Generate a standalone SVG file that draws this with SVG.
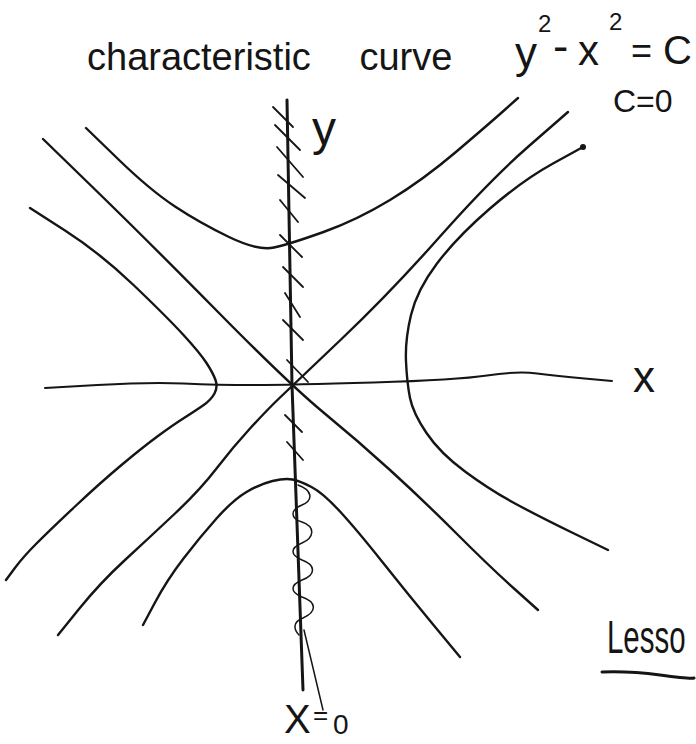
<svg xmlns="http://www.w3.org/2000/svg" width="696" height="744" viewBox="0 0 696 744">
<style>
.c{fill:none;stroke:#151515;stroke-width:2.4;stroke-linecap:round;stroke-linejoin:round}
.ax{stroke-width:3}
.thin{stroke-width:1.5}
.h{stroke-width:1.8}
.t{font-family:"Liberation Sans",Arial,sans-serif;fill:#151515}
</style>
<rect width="696" height="744" fill="#ffffff"/>
<g id="axes">
  <path id="x-axis" class="c" style="stroke-width:2" d="M45,388 L97.5,385 Q150,382 183.5,383.5 Q217,385 253.5,385 Q290,385 373.5,382.5 Q457,380 487,375.5 Q517,371 537,373.5 Q557,376 584.5,378.5 L612,381"/>
  <path id="y-axis" class="c ax" d="M287,100 L292,385 L303,690"/>
  <path id="x0-pointer" class="c thin" d="M304,630 L323,710"/>
</g>
<g id="hatches" class="c h">
  <path d="M273,107 L293,127"/>
  <path d="M275,125 L300,150"/>
  <path d="M277,147 L303,177"/>
  <path d="M278,175 L305,198"/>
  <path d="M280,200 L298,222"/>
  <path d="M280,235 L302,257"/>
  <path d="M283,267 L303,287"/>
  <path d="M285,293 L300,317"/>
  <path d="M283,320 L303,340"/>
  <path d="M287,360 L308,382"/>
  <path d="M285,415 L302,432"/>
  <path d="M287,442 L303,460"/>
  <path class="thin" d="M298,485 C312,490 314,500 302,505 C290,510 290,518 302,522 C316,527 314,538 302,543 C290,548 290,555 302,560 C316,565 316,575 302,580 C290,585 290,592 302,597 C317,602 317,612 303,618 C292,622 294,630 299,635"/>
</g>
<g id="curves">
  <path id="upper-branch" class="c" d="M86,128 L118,159 Q150,190 175,206.5 Q200,223 229,237 Q258,251 274,247.5 Q290,244 323.5,232 Q357,220 390,200 Q423,180 456.5,151.5 Q490,123 504,110.5 L518,98"/>
  <path id="asymptote-a" class="c" d="M43,139 L95,189.5 Q147,240 218.5,312.5 Q290,385 323.5,412.5 Q357,440 390,470 Q423,500 456.5,533.5 Q490,567 514,588.5 L538,610"/>
  <path id="asymptote-b" class="c" d="M58,635 L79,609 Q100,583 125,560 Q150,537 175,513.5 Q200,490 216.5,468.5 Q233,447 250,428.5 Q267,410 279.5,398 Q292,386 341,339.5 Q390,293 440,236.5 Q490,180 529,146 L568,112"/>
  <path id="left-branch" class="c" d="M30,208 L65,230.5 Q100,253 133.5,285 Q167,317 183.5,335 Q200,353 206.5,363 Q213,373 215.5,380 Q218,387 214.5,393.5 Q211,400 203,405.5 Q195,411 184,418 Q173,425 158,436 Q143,447 121.5,465 Q100,483 75,506.5 Q50,530 36.5,543.5 Q23,557 14.5,568.5 L6,580"/>
  <path id="right-branch" class="c" d="M583,147 L553,163.5 Q523,180 490,208.5 Q457,237 437,263.5 Q417,290 411,315 Q405,340 406,361.5 Q407,383 410,398 Q413,413 426.5,433 Q440,453 465,471.5 Q490,490 515,503.5 Q540,517 574,533.5 L608,550"/>
  <circle cx="583" cy="147" r="3" fill="#151515"/>
  <path id="lower-branch" class="c" d="M143,625 L155,602.5 Q167,580 183.5,558.5 Q200,537 216.5,518.5 Q233,500 246.5,492 Q260,484 272.5,481 Q285,478 292.5,479.5 Q300,481 311.5,487 Q323,493 340,511.5 Q357,530 382,561.5 Q407,593 433.5,625 L460,657"/>
</g>
<g id="labels">
  <text id="title" class="t" x="87" y="70" font-size="38" word-spacing="38">characteristic curve</text>
  <text id="equation" class="t"><tspan x="515" y="68" font-size="44">y</tspan><tspan x="538" y="32" font-size="24">2</tspan><tspan x="553" y="62" font-size="46">-</tspan><tspan x="578" y="65" font-size="42">x</tspan><tspan x="609" y="30" font-size="24">2</tspan><tspan x="631" y="63" font-size="36">=</tspan><tspan x="663" y="64" font-size="40">C</tspan></text>
  <text id="c-zero" class="t" x="613" y="112" font-size="32">C=0</text>
  <text id="y-label" class="t" x="312" y="145" font-size="48">y</text>
  <text id="x-label" class="t" x="633" y="392" font-size="44">x</text>
  <text id="x-zero" class="t"><tspan x="284" y="733" font-size="40">X</tspan><tspan x="313" y="724" font-size="26">=</tspan><tspan x="333" y="734" font-size="28">0</tspan></text>
  <text id="lesson" class="t" transform="translate(607,653) scale(0.64,1)" font-size="46">Lesso</text>
  <path id="lesson-underline" class="c" style="stroke-width:3" d="M602,672 Q630,671 660,675 T694,678"/>
</g>
</svg>
